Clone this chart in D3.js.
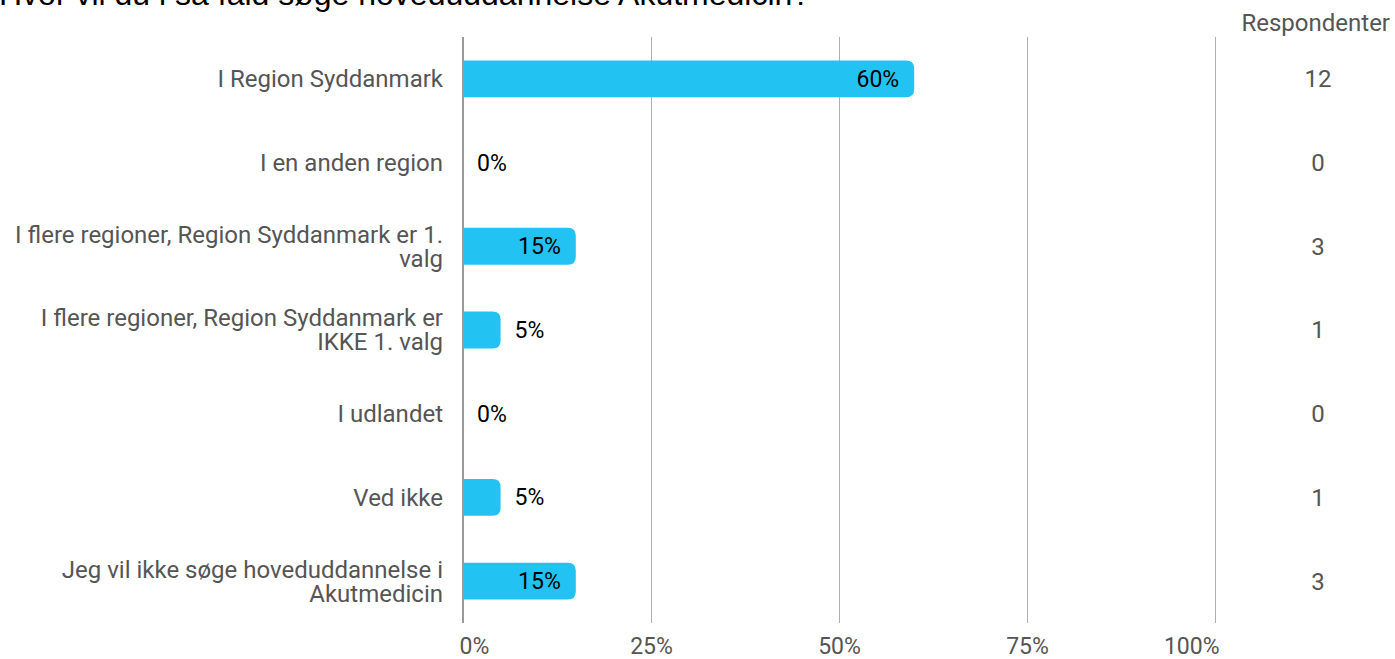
<!DOCTYPE html>
<html>
<head>
<meta charset="utf-8">
<script src="https://cdn.jsdelivr.net/npm/d3@7"></script>
<style>
  body { margin: 0; background: #fff; overflow: hidden; }
  svg { display: block; }
</style>
</head>
<body>
<div id="chart"></div>
<script>
const title = "Hvor vil du i så fald søge hoveduddannelse Akutmedicin?";
const categories = [
  ["I Region Syddanmark"],
  ["I en anden region"],
  ["I flere regioner, Region Syddanmark er 1.", "valg"],
  ["I flere regioner, Region Syddanmark er", "IKKE 1. valg"],
  ["I udlandet"],
  ["Ved ikke"],
  ["Jeg vil ikke søge hoveduddannelse i", "Akutmedicin"]
];
const percents = [60, 0, 15, 5, 0, 5, 15];
const respondents = [12, 0, 3, 1, 0, 1, 3];
const ticks = [0, 25, 50, 75, 100];

const width = 1395, height = 659;
const margin = { top: 37, bottom: 36, left: 463, right: 180 };
const font = "Roboto, sans-serif";

const svg = d3.select("#chart").append("svg")
  .attr("width", width).attr("height", height);

const x = d3.scaleLinear().domain([0, 100]).range([margin.left, 1215]);
const y = d3.scaleBand()
  .domain(d3.range(categories.length))
  .range([margin.top, height - margin.bottom])
  .paddingInner(0.56).paddingOuter(0.28);

// title, cut at the top like the source image
svg.append("text")
  .attr("x", -1).attr("y", 5)
  .style("font", "32px 'Liberation Sans', Arial, sans-serif")
  .attr("fill", "#000")
  .text(title);

// grid
svg.append("g").selectAll("line")
  .data(ticks.slice(1))
  .join("line")
  .attr("x1", d => x(d) + 0.5).attr("x2", d => x(d) + 0.5)
  .attr("y1", margin.top).attr("y2", height - margin.bottom)
  .attr("stroke", "#b0b0b0").attr("stroke-width", 1);

// x axis
const xAxis = svg.append("g")
  .attr("transform", `translate(0,${height - margin.bottom})`)
  .call(d3.axisBottom(x).tickValues(ticks).tickFormat(d => d + "%").tickSize(0).tickPadding(15));
xAxis.select(".domain").remove();
xAxis.selectAll("text")
  .style("font", `23px ${font}`)
  .attr("fill", "#555")
  .attr("text-anchor", d => d === 0 ? "start" : d === 100 ? "end" : "middle")
  .attr("dx", d => d === 0 ? -4 : d === 100 ? 4 : 0);

// bars, rounded at the right end
const r = 8;
const barPath = (x0, x1, y0, h) => {
  const w = x1 - x0;
  if (w <= 0) return "";
  const rr = Math.min(r, w, h / 2);
  return `M${x0},${y0}H${x1 - rr}Q${x1},${y0} ${x1},${y0 + rr}V${y0 + h - rr}Q${x1},${y0 + h} ${x1 - rr},${y0 + h}H${x0}Z`;
};

svg.append("g").selectAll("path")
  .data(percents)
  .join("path")
  .attr("d", (d, i) => barPath(x(0), x(d), y(i), y.bandwidth()))
  .attr("fill", "#22c3f3");

// zero line
svg.append("line")
  .attr("x1", x(0)).attr("x2", x(0))
  .attr("y1", margin.top).attr("y2", height - margin.bottom)
  .attr("stroke", "#999").attr("stroke-width", 2);

// value labels
svg.append("g").selectAll("text")
  .data(percents)
  .join("text")
  .attr("x", d => d >= 10 ? x(d) - 15 : x(d) + 14)
  .attr("y", (d, i) => y(i) + y.bandwidth() / 2)
  .attr("dy", "0.35em")
  .attr("text-anchor", d => d >= 10 ? "end" : "start")
  .style("font", `23px ${font}`)
  .attr("fill", "#000")
  .text(d => d + "%");

// category labels
const lab = svg.append("g").selectAll("text")
  .data(categories)
  .join("text")
  .attr("text-anchor", "end")
  .style("font", `24px ${font}`)
  .attr("fill", "#555");
lab.each(function (lines, i) {
  const cy = y(i) + y.bandwidth() / 2;
  const lh = 24;
  const y0 = cy - (lines.length - 1) * lh / 2;
  d3.select(this).selectAll("tspan")
    .data(lines)
    .join("tspan")
    .attr("x", 443)
    .attr("y", (l, j) => y0 + j * lh)
    .attr("dy", "0.35em")
    .text(l => l);
});

// respondents column
svg.append("text")
  .attr("x", 1390).attr("y", 31)
  .attr("text-anchor", "end")
  .style("font", `24px ${font}`)
  .attr("fill", "#555")
  .text("Respondenter");

svg.append("g").selectAll("text")
  .data(respondents)
  .join("text")
  .attr("x", 1318)
  .attr("y", (d, i) => y(i) + y.bandwidth() / 2)
  .attr("dy", "0.35em")
  .attr("text-anchor", "middle")
  .style("font", `24px ${font}`)
  .attr("fill", "#555")
  .text(d => d);
</script>
</body>
</html>
